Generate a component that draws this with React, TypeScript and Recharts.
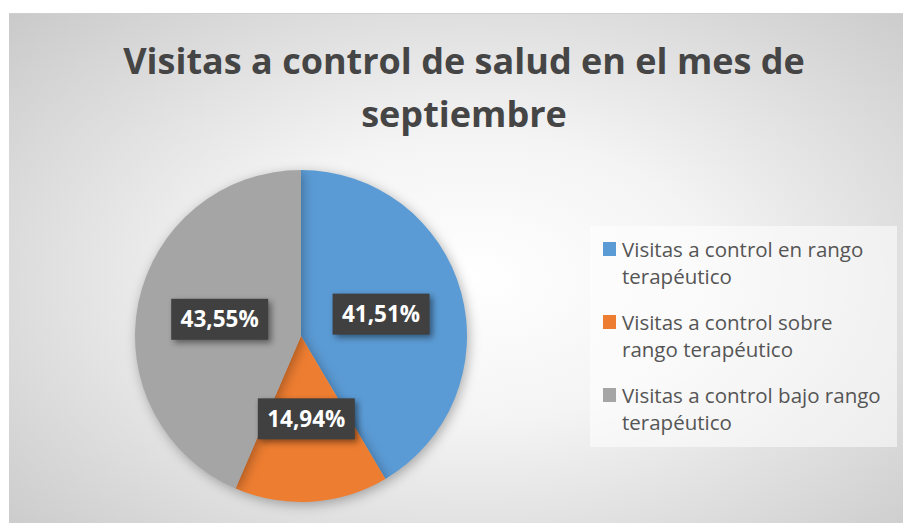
import { PieChart, Pie, Cell, Legend } from 'recharts';

const categories = [
  'Visitas a control en rango terapéutico',
  'Visitas a control sobre rango terapéutico',
  'Visitas a control bajo rango terapéutico',
];
const legendLines = [
  ['Visitas a control en rango', 'terapéutico'],
  ['Visitas a control sobre', 'rango terapéutico'],
  ['Visitas a control bajo rango', 'terapéutico'],
];
const percentages = [41.51, 14.94, 43.55];
const colors = ['#5b9bd5', '#ed7d31', '#a5a5a5'];
const titleLines = ['Visitas a control de salud en el mes de', 'septiembre'];

const data = categories.map((name, i) => ({ name, value: percentages[i] }));

const FONT = '"Open Sans", Lato, sans-serif';
const RAD = Math.PI / 180;

function renderLabel(props: any) {
  const { cx, cy, midAngle, outerRadius, value } = props;
  const r = outerRadius * 0.5;
  const x = cx + r * Math.cos(-midAngle * RAD);
  const y = cy + r * Math.sin(-midAngle * RAD);
  const w = 97;
  const h = 41;
  return (
    <g>
      <rect
        x={x - w / 2}
        y={y - h / 2}
        width={w}
        height={h}
        fill="#404040"
        style={{ filter: 'drop-shadow(3px 3px 3px rgba(0,0,0,0.45))' }}
      />
      <text
        x={x}
        y={y + 8}
        textAnchor="middle"
        fill="#ffffff"
        fontFamily={FONT}
        fontWeight={700}
        fontSize={22.5}
      >
        {value.toFixed(2).replace('.', ',')}%
      </text>
    </g>
  );
}

function LegendBox() {
  return (
    <div
      style={{
        position: 'relative',
        width: 307,
        height: 221,
        background: 'rgba(255,255,255,0.55)',
        fontFamily: FONT,
        color: '#555555',
        fontSize: 20.5,
      }}
    >
      {categories.map((name, i) => (
        <div key={name} style={{ position: 'absolute', left: 13, top: 11 + i * 73 }}>
          <div
            style={{
              position: 'absolute',
              left: 0,
              top: 5,
              width: 13,
              height: 14,
              background: colors[i],
            }}
          />
          {legendLines[i].map((line, j) => (
            <div
              key={j}
              style={{ position: 'absolute', left: 19, top: j * 27, whiteSpace: 'nowrap', lineHeight: '24px' }}
            >
              {line}
            </div>
          ))}
        </div>
      ))}
    </div>
  );
}

export default function App() {
  return (
    <div style={{ position: 'absolute', left: 0, top: 0, width: 903, height: 523, background: '#ffffff' }}>
      <div
        style={{
          position: 'absolute',
          left: 9,
          top: 13,
          width: 894,
          height: 510,
          background:
            'radial-gradient(ellipse 75% 80% at 52% 52%, #ffffff 0%, #f4f4f4 35%, #c6c6c6 100%)',
          borderTop: '1px solid #d0d0d0',
          boxSizing: 'border-box',
        }}
      >
        <svg width={894} height={130} style={{ position: 'absolute', left: 0, top: 0 }}>
          {titleLines.map((line, i) => (
            <text
              key={i}
              x={455}
              y={60 + i * 53}
              textAnchor="middle"
              fill="#454545"
              fontFamily={FONT}
              fontWeight={700}
              fontSize={36}
            >
              {line}
            </text>
          ))}
        </svg>
        <div style={{ position: 'absolute', left: 0, top: 0 }}>
          <PieChart width={894} height={509} margin={{ top: 0, right: 0, bottom: 0, left: 0 }}>
            <Pie
              data={data}
              dataKey="value"
              nameKey="name"
              cx={292}
              cy={322}
              outerRadius={166}
              startAngle={90}
              endAngle={-270}
              stroke="none"
              label={renderLabel}
              labelLine={false}
              isAnimationActive={false}
              style={{ filter: 'drop-shadow(2px 3px 6px rgba(0,0,0,0.3))' }}
            >
              {data.map((d, i) => (
                <Cell key={d.name} fill={colors[i]} />
              ))}
            </Pie>
            <Legend
              content={LegendBox}
              wrapperStyle={{ position: 'absolute', left: 581, top: 212, width: 307, height: 221 }}
            />
          </PieChart>
        </div>
      </div>
    </div>
  );
}
